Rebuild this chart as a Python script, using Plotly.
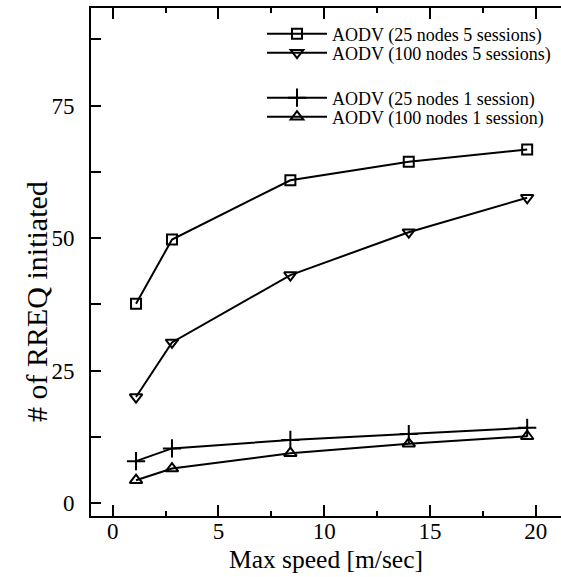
import plotly.graph_objects as go

speed = [1.1, 2.8, 8.4, 14.0, 19.6]
n25_s5 = [37.6, 49.7, 60.9, 64.4, 66.7]
n100_s5 = [20.0, 30.3, 43.0, 51.1, 57.6]
n25_s1 = [7.9, 10.3, 11.9, 13.0, 14.2]
n100_s1 = [4.3, 6.5, 9.4, 11.2, 12.6]

names = ["AODV (25 nodes 5 sessions)", "AODV (100 nodes 5 sessions)",
         "AODV (25 nodes 1 session)", "AODV (100 nodes 1 session)"]
series = [n25_s5, n100_s5, n25_s1, n100_s1]
symbols = ["square-open", "triangle-down-open", "cross-thin-open", "triangle-up-open"]
sizes = [10, 11, 13, 11]
legends = ["legend", "legend2", "legend3", "legend4"]

x_title = "Max speed [m/sec]"
y_title = "# of RREQ initiated"

FONT = "Liberation Serif, Times New Roman, serif"

fig = go.Figure()
for name, ys, sym, sz, lg in zip(names, series, symbols, sizes, legends):
    fig.add_trace(go.Scatter(
        x=speed, y=ys, name=name, mode="lines+markers",
        line=dict(color="black", width=2),
        marker=dict(symbol=sym, size=sz, color="black",
                    line=dict(color="black", width=2)),
        legend=lg, showlegend=True,
    ))

leg_common = dict(font=dict(family=FONT, size=18, color="black"),
                  bgcolor="rgba(0,0,0,0)", borderwidth=0,
                  xanchor="left", yanchor="middle", itemwidth=60,
                  tracegroupgap=0, visible=True)
leg_y = [34, 53, 98, 117]
leg_x = (262 - 91) / 470
plot_top, plot_bot = 8, 516
def paper_y(py):
    return (plot_bot - py) / (plot_bot - plot_top)

fig.update_layout(
    width=561, height=577,
    showlegend=True,
    margin=dict(l=91, r=0, t=8, b=61, autoexpand=False),
    paper_bgcolor="white", plot_bgcolor="white",
    font=dict(family=FONT, color="black"),
    legend=dict(x=leg_x, y=paper_y(leg_y[0]), **leg_common),
    legend2=dict(x=leg_x, y=paper_y(leg_y[1]), **leg_common),
    legend3=dict(x=leg_x, y=paper_y(leg_y[2]), **leg_common),
    legend4=dict(x=leg_x, y=paper_y(leg_y[3]), **leg_common),
    xaxis=dict(range=[-1.03, 21.2], tickvals=[0, 5, 10, 15, 20],
               ticks="inside", ticklen=11, tickwidth=2, tickcolor="black",
               showline=True, linewidth=2, linecolor="black", mirror="ticks",
               showgrid=False, zeroline=False, ticklabelstandoff=-7,
               minor=dict(tickvals=[2.5, 7.5, 12.5, 17.5], ticks="inside",
                          ticklen=5, tickwidth=2, tickcolor="black", showgrid=False),
               tickfont=dict(family=FONT, size=23, color="black"),
               title=dict(text=x_title, standoff=8,
                          font=dict(family=FONT, size=25.5, color="black"))),
    yaxis=dict(range=[-2.45, 93.4], tickvals=[0, 25, 50, 75],
               ticks="inside", ticklen=10, tickwidth=2, tickcolor="black",
               showline=True, linewidth=2, linecolor="black", mirror=False,
               showgrid=False, zeroline=False, ticklabelstandoff=10,
               minor=dict(tickvals=[12.5, 37.5, 62.5, 87.5], ticks="inside",
                          ticklen=10, tickwidth=2, tickcolor="black", showgrid=False),
               tickfont=dict(family=FONT, size=23, color="black")),
    yaxis2=dict(matches="y", overlaying="y", side="right",
                ticks="inside", ticklen=5, tickwidth=2, tickcolor="black",
                tickvals=[0, 25, 50, 75], showticklabels=False,
                showline=False, showgrid=False, zeroline=False),
    annotations=[dict(text=y_title, xref="paper", yref="paper",
                      x=(36 - 91) / 470, y=paper_y(302), textangle=-90,
                      showarrow=False, xanchor="center", yanchor="middle",
                      font=dict(family=FONT, size=30, color="black"))],
)

fig.write_html("out.html", config={"displayModeBar": False},
               post_script="document.body.style.margin='0';")
